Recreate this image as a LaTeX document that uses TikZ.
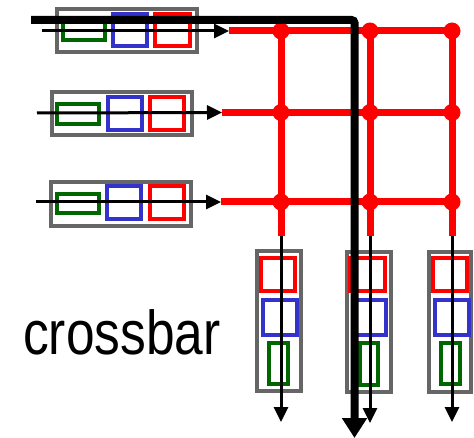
\documentclass[tikz,border=0pt]{standalone}
\usepackage{fontspec}
\newfontfamily\arialfont{Liberation Sans}
\usetikzlibrary{arrows.meta}
\definecolor{qgray}{HTML}{666666}
\definecolor{qgreen}{HTML}{006600}
\definecolor{qblue}{HTML}{3333CC}
\definecolor{qred}{HTML}{FF0000}
\tikzset{
  gbox/.style={draw=qgray,line width=4pt,inner sep=0pt,fill=white},
  grbox/.style={draw=qgreen,line width=4pt,inner sep=0pt},
  blbox/.style={draw=qblue,line width=4pt,inner sep=0pt},
  rdbox/.style={draw=qred,line width=4pt,inner sep=0pt},
  wire/.style={draw=qred,line width=7pt},
  xdot/.style={circle,fill=qred,inner sep=0pt,minimum size=17pt},
  thinarrow/.style={line width=3pt,-{Triangle[length=15pt,width=14pt]}},
  thickarrow/.style={line width=8pt,rounded corners=3pt,-{Triangle[length=20pt,width=24pt]}},
}
\begin{document}
\begin{tikzpicture}[x=1pt,y=-1pt]
\useasboundingbox (0,0) rectangle (474,438);
% input queues
\node[gbox,minimum width=140pt,minimum height=43pt] (q1) at (127,30.5) {};
\node[grbox,minimum width=42pt,minimum height=19pt] (q1g) at (84,30.5) {};
\node[blbox,minimum width=34pt,minimum height=32pt] (q1b) at (130,30) {};
\node[rdbox,minimum width=35pt,minimum height=32pt] (q1r) at (172.5,30) {};
\node[gbox,minimum width=140pt,minimum height=43pt] (q2) at (122,113.5) {};
\node[grbox,minimum width=42pt,minimum height=20pt] (q2g) at (78,114) {};
\node[blbox,minimum width=34pt,minimum height=33pt] (q2b) at (125,113.5) {};
\node[rdbox,minimum width=34pt,minimum height=33pt] (q2r) at (167,113.5) {};
\node[gbox,minimum width=140pt,minimum height=44pt] (q3) at (121,204) {};
\node[grbox,minimum width=42pt,minimum height=19pt] (q3g) at (78,203.5) {};
\node[blbox,minimum width=34pt,minimum height=33pt] (q3b) at (124,202.5) {};
\node[rdbox,minimum width=34pt,minimum height=33pt] (q3r) at (167,202.5) {};
% output queues
\node[gbox,minimum width=44pt,minimum height=140pt] (o1) at (279,321) {};
\node[rdbox,minimum width=34pt,minimum height=33pt] (o1r) at (278,274.5) {};
\node[blbox,minimum width=34pt,minimum height=35pt] (o1b) at (280,317.5) {};
\node[grbox,minimum width=19pt,minimum height=41pt] (o1g) at (278.5,363.5) {};
\node[gbox,minimum width=44pt,minimum height=140pt] (o2) at (369,322) {};
\node[rdbox,minimum width=35pt,minimum height=33pt] (o2r) at (367.5,274.5) {};
\node[blbox,minimum width=33pt,minimum height=35pt] (o2b) at (369.5,317.5) {};
\node[grbox,minimum width=18pt,minimum height=42pt] (o2g) at (369,364) {};
\node[gbox,minimum width=42pt,minimum height=140pt] (o3) at (450,322) {};
\node[rdbox,minimum width=34pt,minimum height=33pt] (o3r) at (450,274.5) {};
\node[blbox,minimum width=34pt,minimum height=35pt] (o3b) at (452,317.5) {};
\node[grbox,minimum width=19pt,minimum height=41pt] (o3g) at (450.5,363.5) {};
% crossbar grid
\coordinate (h1s) at (229,31);
\coordinate (h2s) at (222,112.5);
\coordinate (h3s) at (221,202);
\coordinate (c11) at (281,31);  \coordinate (c12) at (370,31);  \coordinate (c13) at (452,31);
\coordinate (c21) at (281,112.5); \coordinate (c22) at (370,112.5); \coordinate (c23) at (452,112.5);
\coordinate (c31) at (281,202); \coordinate (c32) at (370,202); \coordinate (c33) at (452,202);
\coordinate (v1e) at (281,236); \coordinate (v2e) at (370,236); \coordinate (v3e) at (452,236);
\draw[wire] (h1s) -- (c13);
\draw[wire] (h2s) -- (c23);
\draw[wire] (h3s) -- (c33);
\draw[wire] (c11) -- (v1e);
\draw[wire] (c12) -- (v2e);
\draw[wire] (c13) -- (v3e);
\foreach \c in {c11,c12,c13,c21,c22,c23,c31,c32,c33}
  \node[xdot] (d\c) at (\c) {};
% input arrows
\coordinate (a1s) at (42,31);
\coordinate (a2s) at (37,113);
\coordinate (a3s) at (36,202);
\draw[thinarrow] (a1s) -- (h1s);
\draw[thinarrow] (a2s) -- (h2s);
\draw[thinarrow] (a3s) -- (h3s);
% output arrows
\coordinate (b1e) at (281,422);
\coordinate (b2e) at (370,423);
\coordinate (b3e) at (452,422);
\draw[thinarrow] (v1e) -- (b1e);
\draw[thinarrow] (v2e) -- (b2e);
\draw[thinarrow] (v3e) -- (b3e);
% thick path
\coordinate (p0) at (31,20);
\coordinate (p1) at (354.5,20);
\coordinate (p2) at (354.5,438);
\draw[thickarrow] (p0) -- (p1) -- (p2);
% label
\node[anchor=base west,inner sep=0pt,xscale=0.83,font=\arialfont\fontsize{62}{70}\selectfont] (lbl) at (23,355) {crossbar};
\end{tikzpicture}
\end{document}
